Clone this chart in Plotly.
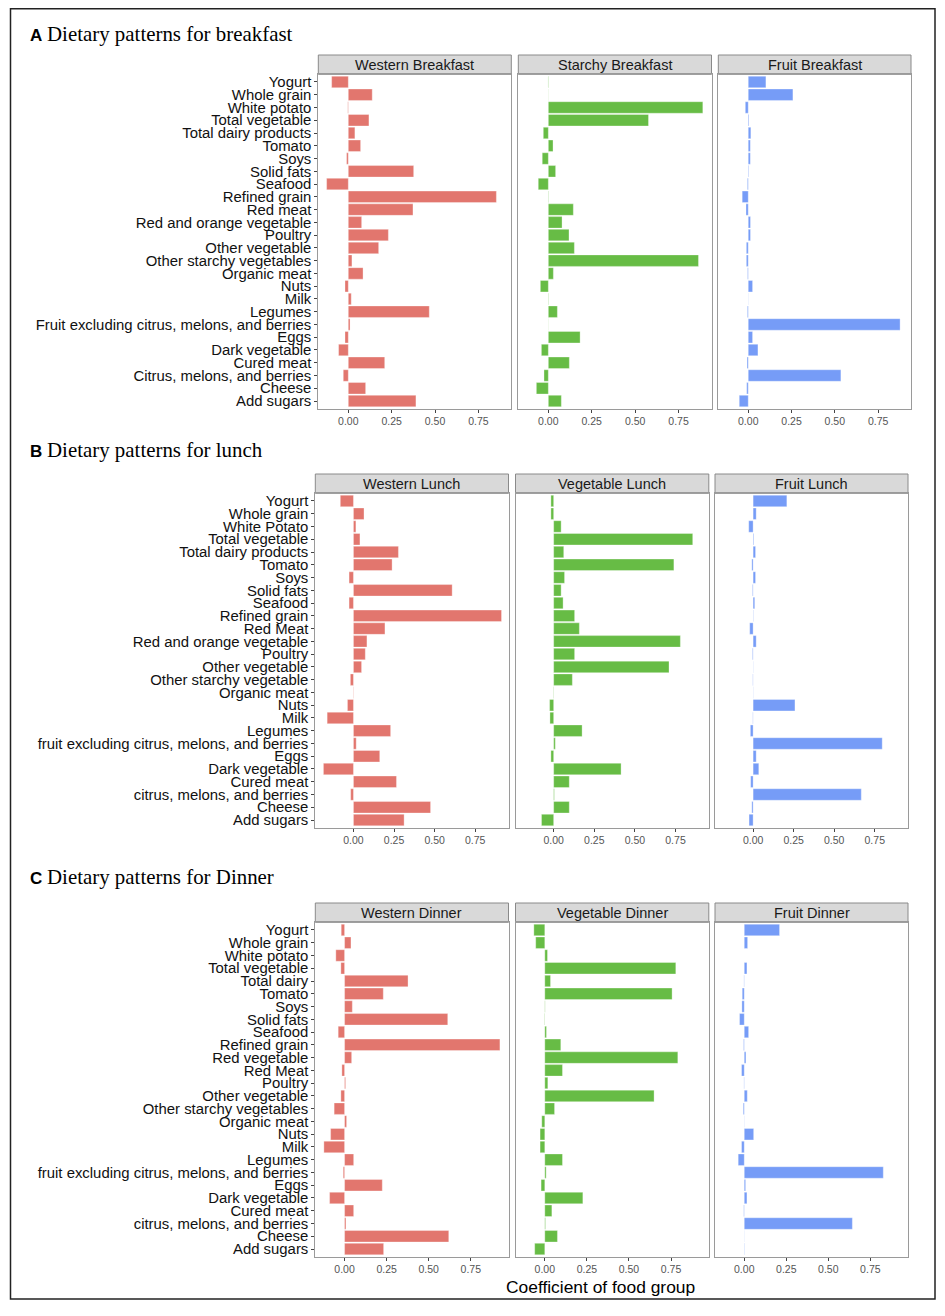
import plotly.graph_objects as go

# page body has an 8px margin; the figure is sized to fit inside the window
OFF = 8
W, H = 945 - OFF, 1316 - OFF

# ---------------- data ----------------
cats_breakfast = ["Yogurt", "Whole grain", "White potato", "Total vegetable", "Total dairy products",
                  "Tomato", "Soys", "Solid fats", "Seafood", "Refined grain", "Red meat",
                  "Red and orange vegetable", "Poultry", "Other vegetable", "Other starchy vegetables",
                  "Organic meat", "Nuts", "Milk", "Legumes", "Fruit excluding citrus, melons, and berries",
                  "Eggs", "Dark vegetable", "Cured meat", "Citrus, melons, and berries", "Cheese", "Add sugars"]
western_breakfast = [-0.096, 0.138, -0.003, 0.119, 0.038, 0.071, -0.010, 0.377, -0.125, 0.854, 0.373,
                     0.077, 0.231, 0.175, 0.021, 0.085, -0.019, 0.017, 0.467, 0.010, -0.019, -0.056,
                     0.210, -0.029, 0.100, 0.390]
starchy_breakfast = [-0.002, 0.001, 0.890, 0.577, -0.029, 0.027, -0.035, 0.042, -0.058, 0.002, 0.144,
                     0.079, 0.119, 0.150, 0.865, 0.029, -0.046, 0.002, 0.052, 0.001, 0.183, -0.040,
                     0.121, -0.025, -0.069, 0.075]
fruit_breakfast = [0.102, 0.258, -0.017, 0.004, 0.015, 0.012, 0.012, 0.003, -0.005, -0.035, -0.013,
                   0.013, 0.013, -0.011, -0.011, -0.004, 0.025, 0.001, -0.005, 0.877, 0.025, 0.056,
                   -0.007, 0.535, -0.009, -0.052]

cats_lunch = ["Yogurt", "Whole grain", "White Potato", "Total vegetable", "Total dairy products",
              "Tomato", "Soys", "Solid fats", "Seafood", "Refined grain", "Red Meat",
              "Red and orange vegetable", "Poultry", "Other vegetable", "Other starchy vegetable",
              "Organic meat", "Nuts", "Milk", "Legumes", "fruit excluding citrus, melons, and berries",
              "Eggs", "Dark vegetable", "Cured meat", "citrus, melons, and berries", "Cheese", "Add sugars"]
western_lunch = [-0.081, 0.065, 0.015, 0.040, 0.277, 0.238, -0.027, 0.608, -0.027, 0.912, 0.194,
                 0.083, 0.073, 0.050, -0.019, -0.002, -0.037, -0.162, 0.229, 0.017, 0.162, -0.185,
                 0.265, -0.017, 0.475, 0.312]
vegetable_lunch = [-0.017, -0.017, 0.046, 0.856, 0.062, 0.740, 0.067, 0.046, 0.058, 0.129, 0.158,
                   0.780, 0.129, 0.710, 0.115, -0.002, -0.025, -0.023, 0.175, 0.010, -0.017, 0.415,
                   0.096, 0.004, 0.096, -0.075]
fruit_lunch = [0.208, 0.019, -0.027, 0.004, 0.015, -0.008, 0.015, -0.004, 0.010, 0.002, -0.021,
               0.019, -0.004, 0.001, -0.002, 0.001, 0.258, -0.002, -0.017, 0.796, 0.019, 0.035,
               -0.015, 0.667, -0.008, -0.025]

cats_dinner = ["Yogurt", "Whole grain", "White potato", "Total vegetable", "Total dairy",
               "Tomato", "Soys", "Solid fats", "Seafood", "Refined grain", "Red vegetable",
               "Red Meat", "Poultry", "Other vegetable", "Other starchy vegetables",
               "Organic meat", "Nuts", "Milk", "Legumes", "fruit excluding citrus, melons, and berries",
               "Eggs", "Dark vegetable", "Cured meat", "citrus, melons, and berries", "Cheese", "Add sugars"]
western_dinner = [-0.020, 0.038, -0.052, -0.022, 0.377, 0.230, 0.046, 0.613, -0.038, 0.923, 0.042,
                  -0.016, 0.006, -0.022, -0.062, 0.012, -0.083, -0.123, 0.054, -0.008, 0.224, -0.089,
                  0.054, 0.008, 0.619, 0.232]
vegetable_dinner = [-0.065, -0.054, 0.016, 0.778, 0.034, 0.756, 0.002, -0.002, 0.010, 0.095, 0.790,
                    0.105, 0.018, 0.649, 0.058, -0.018, -0.028, -0.028, 0.105, 0.008, -0.022, 0.226,
                    0.042, 0.004, 0.075, -0.060]
fruit_dinner = [0.210, 0.020, 0.000, 0.016, -0.002, -0.012, -0.014, -0.028, 0.026, -0.004, 0.010,
                -0.016, -0.002, 0.018, -0.006, -0.001, 0.056, -0.016, -0.036, 0.827, 0.008, 0.016,
                -0.003, 0.643, 0.001, 0.002]

panel_titles = [["Western Breakfast", "Starchy Breakfast", "Fruit Breakfast"],
                ["Western Lunch", "Vegetable Lunch", "Fruit Lunch"],
                ["Western Dinner", "Vegetable Dinner", "Fruit Dinner"]]
row_titles = ["Dietary patterns for breakfast", "Dietary patterns for lunch", "Dietary patterns for Dinner"]
row_letters = ["A", "B", "C"]
tick_vals = [0.0, 0.25, 0.5, 0.75]
tick_text = ["0.00", "0.25", "0.50", "0.75"]
x_title = "Coefficient of food group"

row_cats = [cats_breakfast, cats_lunch, cats_dinner]
row_values = [[western_breakfast, starchy_breakfast, fruit_breakfast],
              [western_lunch, vegetable_lunch, fruit_lunch],
              [western_dinner, vegetable_dinner, fruit_dinner]]

# ---------------- layout (target page pixels) ----------------
def fx(px):
    return (px - OFF) / W


def fy(py):
    return 1 - (py - OFF) / H


colors = ["#E2766E", "#67BC45", "#769CF7"]
rows = [
    dict(top=74.3, bottom=408.7, xs=[(318.3, 511.3), (518.3, 711.5), (718.3, 911.0)], xr=[-0.173, 0.94], title_y=34),
    dict(top=493.3, bottom=827.7, xs=[(315.3, 508.5), (515.5, 708.8), (715.0, 908.0)], xr=[-0.235, 0.955], title_y=450),
    dict(top=922.3, bottom=1256.7, xs=[(315.3, 508.5), (515.5, 708.8), (715.0, 908.0)], xr=[-0.174, 0.974], title_y=877),
]
strip_h = 19.3

FONT = "Liberation Sans, Arial, sans-serif"
SERIF = "Liberation Serif, Times New Roman, serif"

fig = go.Figure()
layout = dict(width=W, height=H, margin=dict(l=0, r=0, t=0, b=0),
              paper_bgcolor="white", plot_bgcolor="white", showlegend=False,
              font=dict(family=FONT, color="#1a1a1a"))
shapes = []
annotations = []

k = 0
for r, row in enumerate(rows):
    cats = row_cats[r]
    n = len(cats)
    y0 = fy(row["bottom"])
    y1 = fy(row["top"])
    for c in range(3):
        k += 1
        xa = "x" if k == 1 else f"x{k}"
        ya = "y" if k == 1 else f"y{k}"
        vals = row_values[r][c]
        fig.add_trace(go.Bar(
            x=vals, y=cats, orientation="h", xaxis=xa, yaxis=ya,
            marker=dict(color=colors[c], line=dict(color="rgba(255,255,255,0.55)", width=0.6)),
            hoverinfo="x+y"))
        px0, px1 = row["xs"][c]
        layout["xaxis" if k == 1 else f"xaxis{k}"] = dict(
            domain=[fx(px0), fx(px1)], anchor=ya, range=row["xr"], tickmode="array", tickvals=tick_vals,
            ticktext=tick_text, showgrid=False, zeroline=False, showline=True, mirror=True,
            linecolor="#9a9a9a", linewidth=1, ticks="outside", ticklen=3, tickcolor="#444444",
            tickfont=dict(size=10.5, color="#555555", family=FONT), fixedrange=True)
        layout["yaxis" if k == 1 else f"yaxis{k}"] = dict(
            domain=[y0, y1], anchor=xa, type="category", categoryorder="array", categoryarray=cats,
            tickmode="array", tickvals=cats, ticktext=cats,
            range=[n - 0.4, -0.6], showgrid=False, zeroline=False, showline=True, mirror=True,
            linecolor="#9a9a9a", linewidth=1,
            showticklabels=(c == 0), ticks="outside" if c == 0 else "", ticklen=3, tickcolor="#444444",
            tickfont=dict(size=14.9, color="#111111", family=FONT), fixedrange=True)
        # strip
        shapes.append(dict(type="rect", xref="paper", yref="paper",
                           x0=fx(px0), x1=fx(px1), y0=y1, y1=fy(row["top"] - strip_h),
                           fillcolor="#D9D9D9", line=dict(color="#8a8a8a", width=1), layer="below"))
        annotations.append(dict(text=panel_titles[r][c], xref="paper", yref="paper",
                                x=fx((px0 + px1) / 2), y=fy(row["top"] - strip_h / 2),
                                showarrow=False, xanchor="center", yanchor="middle",
                                font=dict(size=14.5, color="#1a1a1a", family=FONT)))
    # row title
    annotations.append(dict(text="<b>" + row_letters[r] + "</b>", xref="paper", yref="paper",
                            x=fx(28), y=fy(row["title_y"] + 1), showarrow=False,
                            xanchor="left", yanchor="middle",
                            font=dict(size=17, color="#000000", family=FONT)))
    annotations.append(dict(text=row_titles[r], xref="paper", yref="paper",
                            x=fx(45), y=fy(row["title_y"]), showarrow=False,
                            xanchor="left", yanchor="middle",
                            font=dict(size=20.9, color="#000000", family=SERIF)))

annotations.append(dict(text=x_title, xref="paper", yref="paper", x=fx(600), y=fy(1287),
                        showarrow=False, xanchor="center", yanchor="middle",
                        font=dict(size=17.4, color="#000000", family=FONT)))

# outer frame
shapes.append(dict(type="rect", xref="paper", yref="paper", x0=fx(10.5), x1=fx(935),
                   y0=fy(1299), y1=fy(8.8), line=dict(color="#222222", width=1.5),
                   fillcolor="rgba(0,0,0,0)"))

layout["shapes"] = shapes
layout["annotations"] = annotations
layout["bargap"] = 0.1
fig.update_layout(**layout)
fig.write_html("out.html")
